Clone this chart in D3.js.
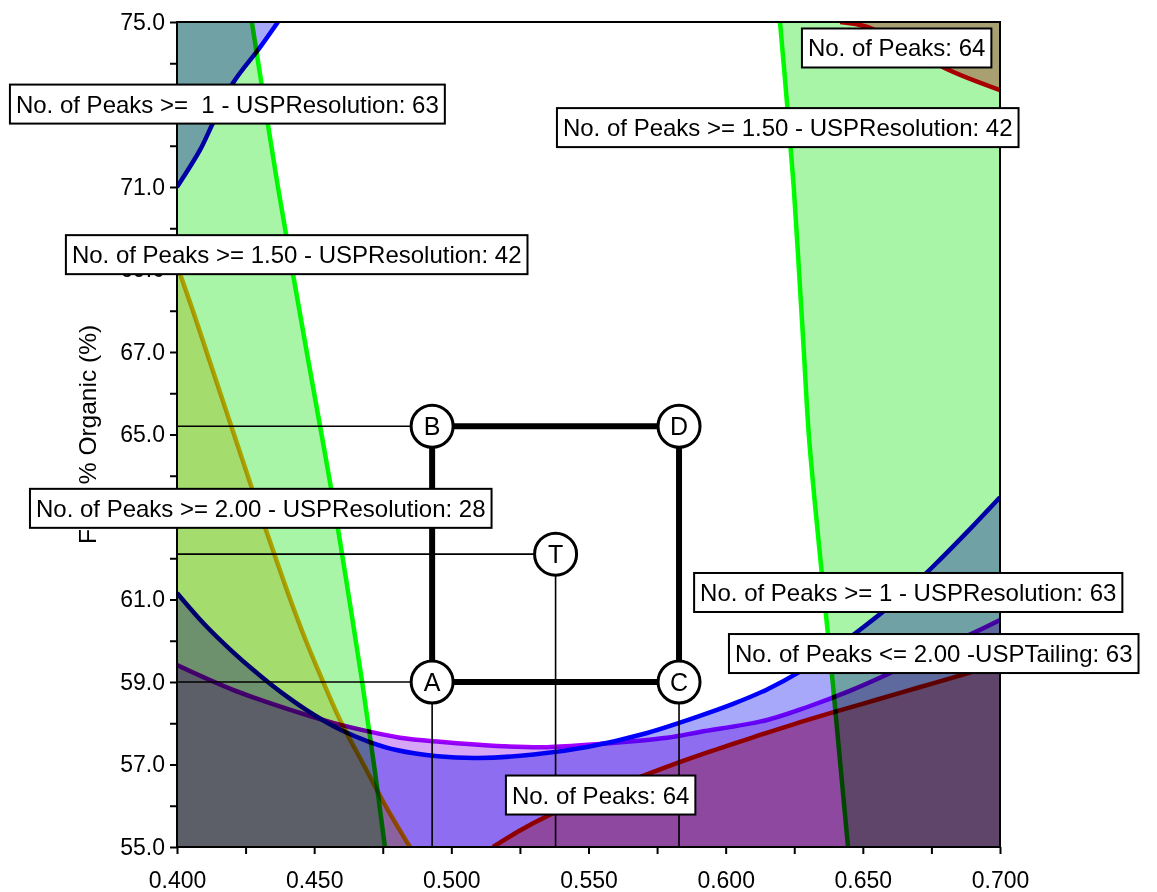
<!DOCTYPE html>
<html><head><meta charset="utf-8">
<script src="https://cdn.jsdelivr.net/npm/d3@7"></script>
<style>
body{margin:0;background:#fff;}
svg text{font-family:"Liberation Sans",Arial,sans-serif;}
</style></head><body>
<svg id="chart" width="1157" height="892"></svg>
<script>
// ---------- data ----------
const xDomain = [0.4, 0.7];
const yDomain = [55, 75];
const xMajorTicks = [0.400, 0.450, 0.500, 0.550, 0.600, 0.650, 0.700];
const xTickLabels = ["0.400", "0.450", "0.500", "0.550", "0.600", "0.650", "0.700"];
const xMinorTicks = [0.425, 0.475, 0.525, 0.575, 0.625, 0.675];
const yMajorTicks = [55, 57, 59, 61, 63, 65, 67, 69, 71, 73, 75];
const yTickLabels = ["55.0", "57.0", "59.0", "61.0", "63.0", "65.0", "67.0", "69.0", "71.0", "73.0", "75.0"];
const yMinorTicks = [56, 58, 60, 62, 64, 66, 68, 70, 72, 74];
const yTitle = "Final % Organic (%)";

// constraint boundaries (x = factor, y = Final % Organic)
const res150LeftEdge = [[0.4273,75],[0.4320,73],[0.4368,71],[0.4420,69],[0.4473,67],[0.4527,65],[0.4580,63],[0.4628,61],[0.4675,59],[0.4718,57],[0.4758,55]];
const res150RightEdge = [[0.6198,75],[0.6224,73],[0.6248,71],[0.6267,69],[0.6285,67],[0.6303,65],[0.6330,63],[0.6360,61],[0.6390,59],[0.6418,57],[0.6446,55]];
const res200Edge = [[0.4000,69.11],[0.4058,68],[0.4108,67],[0.4158,66],[0.4208,65],[0.4258,64],[0.4308,63],[0.4360,62],[0.4413,61],[0.4470,60],[0.4533,59],[0.4600,58],[0.4680,57],[0.4760,56],[0.4849,55]];
const res1TopEdge = [[0.4,71.0],[0.4084,71.90],[0.4131,72.55],[0.4204,73.52],[0.4303,74.39],[0.4368,75.0]];
const res1BottomEdge = [[0.4,61.16],[0.41,60.40],[0.42,59.75],[0.43,59.17],[0.44,58.65],[0.45,58.20],[0.46,57.83],[0.47,57.55],[0.48,57.35],[0.495,57.20],[0.51,57.16],[0.53,57.24],[0.55,57.43],[0.57,57.74],[0.5906,58.18],[0.6027,58.47],[0.6151,58.82],[0.6271,59.25],[0.6391,59.78],[0.6512,60.38],[0.6635,61.05],[0.6756,61.80],[0.6878,62.62],[0.7,63.48]];
const tailingEdge = [[0.4,59.41],[0.4204,58.81],[0.4448,58.25],[0.4569,58.01],[0.4693,57.81],[0.4813,57.65],[0.4959,57.55],[0.5166,57.45],[0.5349,57.42],[0.5542,57.50],[0.5786,57.65],[0.5906,57.79],[0.6151,58.08],[0.63,58.40],[0.645,58.78],[0.66,59.22],[0.675,59.70],[0.69,60.18],[0.7,60.50]];
const peaksBottomEdge = [[0.5152,55.0],[0.525,55.40],[0.535,55.75],[0.55,56.20],[0.565,56.60],[0.58,56.98],[0.595,57.33],[0.61,57.66],[0.625,57.98],[0.64,58.28],[0.655,58.57],[0.67,58.86],[0.685,59.15],[0.7,59.45]];
const peaksTopEdge = [[0.6417,75.0],[0.6516,74.88],[0.6654,74.44],[0.6800,73.88],[0.7,73.35]];

// design points
const pointNames = ["A", "B", "C", "D", "T"];
const pointX = [0.493, 0.493, 0.583, 0.583, 0.538];
const pointY = [59.0, 65.2, 59.0, 65.2, 62.1];
const squareEdges = [["A","B"],["B","D"],["D","C"],["C","A"]];
const horizontalProjections = ["A", "B", "T"];
const verticalProjections = ["A", "T", "C"];

// annotation boxes (left edge x, centre y, in data units)
const annotationTexts = [
  "No. of Peaks >=  1 - USPResolution: 63",
  "No. of Peaks >= 1.50 - USPResolution: 42",
  "No. of Peaks: 64",
  "No. of Peaks >= 1.50 - USPResolution: 42",
  "No. of Peaks >= 2.00 - USPResolution: 28",
  "No. of Peaks >= 1 - USPResolution: 63",
  "No. of Peaks <= 2.00 -USPTailing: 63",
  "No. of Peaks: 64"
];
const annotationX = [0.3391, 0.5385, 0.6278, 0.3595, 0.3464, 0.5885, 0.6012, 0.5199];
const annotationY = [73.01, 72.44, 74.37, 69.36, 63.21, 61.17, 59.69, 56.26];

// ---------- drawing ----------
const svg = d3.select("#chart");
const plotL = 177, plotR = 1000, plotT = 22, plotB = 847;
const x = d3.scaleLinear().domain(xDomain).range([plotL, plotR]);
const y = d3.scaleLinear().domain(yDomain).range([plotB, plotT]);
const X0 = xDomain[0], X1 = xDomain[1], Y0 = yDomain[0], Y1 = yDomain[1];

svg.append("rect").attr("width", 1157).attr("height", 892).attr("fill", "#fff");

svg.append("defs").append("clipPath").attr("id", "plotClip")
  .append("rect").attr("x", plotL).attr("y", plotT).attr("width", plotR - plotL).attr("height", plotB - plotT);

const line = d3.line().x(d => x(d[0])).y(d => y(d[1])).curve(d3.curveCatmullRom.alpha(0.5));
function region(edge, corners) {
  return line(edge) + corners.map(c => "L" + x(c[0]) + "," + y(c[1])).join("") + "Z";
}

const layers = [
  { edge: res1BottomEdge, corners: [[X1, Y0], [X0, Y0]], fill: "#a8a8fa", stroke: "#0000ff" },
  { edge: res1TopEdge, corners: [[X0, Y1]], fill: "#a8a8fa", stroke: "#0000ff" },
  { edge: tailingEdge, corners: [[X1, Y0], [X0, Y0]], fill: "#d7a5f5", stroke: "#a600ff" },
  { edge: peaksBottomEdge, corners: [[X1, Y0]], fill: "#ffa7aa", stroke: "#ff0000" },
  { edge: peaksTopEdge, corners: [[X1, Y1]], fill: "#ffa7aa", stroke: "#ff0000" },
  { edge: res200Edge, corners: [[X0, Y0]], fill: "#fae5a7", stroke: "#ffac00" },
  { edge: res150LeftEdge, corners: [[X0, Y0], [X0, Y1]], fill: "#a8f5a8", stroke: "#00ff00" },
  { edge: res150RightEdge, corners: [[X1, Y0], [X1, Y1]], fill: "#a8f5a8", stroke: "#00ff00" }
];

const gRegions = svg.append("g").attr("clip-path", "url(#plotClip)");
layers.forEach(l => {
  gRegions.append("path").attr("d", region(l.edge, l.corners))
    .attr("fill", l.fill).style("mix-blend-mode", "multiply");
});
layers.forEach(l => {
  gRegions.append("path").attr("d", line(l.edge))
    .attr("fill", "none").attr("stroke", l.stroke).attr("stroke-width", 4.5)
    .attr("stroke-linejoin", "round").style("mix-blend-mode", "multiply");
});

// projection lines
const pts = {};
pointNames.forEach((n, i) => pts[n] = [pointX[i], pointY[i]]);
const gProj = svg.append("g").attr("stroke", "#000").attr("stroke-width", 1.6);
horizontalProjections.forEach(n => {
  gProj.append("line").attr("x1", x(X0)).attr("x2", x(pts[n][0])).attr("y1", y(pts[n][1])).attr("y2", y(pts[n][1]));
});
verticalProjections.forEach(n => {
  gProj.append("line").attr("x1", x(pts[n][0])).attr("x2", x(pts[n][0])).attr("y1", y(pts[n][1])).attr("y2", y(Y0));
});
// square
const gSq = svg.append("g").attr("stroke", "#000").attr("stroke-width", 6);
squareEdges.forEach(e => {
  gSq.append("line").attr("x1", x(pts[e[0]][0])).attr("y1", y(pts[e[0]][1]))
    .attr("x2", x(pts[e[1]][0])).attr("y2", y(pts[e[1]][1]));
});
// point markers
const gPts = svg.append("g");
pointNames.forEach(n => {
  gPts.append("circle").attr("cx", x(pts[n][0])).attr("cy", y(pts[n][1])).attr("r", 21)
    .attr("fill", "#fff").attr("stroke", "#000").attr("stroke-width", 3);
  gPts.append("text").attr("x", x(pts[n][0])).attr("y", y(pts[n][1]) + 9)
    .attr("text-anchor", "middle").attr("font-size", 25).attr("fill", "#000").text(n);
});

// frame
svg.append("rect").attr("x", plotL).attr("y", plotT).attr("width", plotR - plotL).attr("height", plotB - plotT)
  .attr("fill", "none").attr("stroke", "#000").attr("stroke-width", 2);

// axes
const fontSize = 23;
const xAxis = svg.append("g").attr("transform", `translate(0,${plotB})`)
  .call(d3.axisBottom(x).tickValues(xMajorTicks).tickFormat((d, i) => xTickLabels[i]).tickSize(7).tickPadding(18));
const xAxisMinor = svg.append("g").attr("transform", `translate(0,${plotB})`)
  .call(d3.axisBottom(x).tickValues(xMinorTicks).tickFormat("").tickSize(7));
const yAxis = svg.append("g").attr("transform", `translate(${plotL},0)`)
  .call(d3.axisLeft(y).tickValues(yMajorTicks).tickFormat((d, i) => yTickLabels[i]).tickSize(7).tickPadding(5));
const yAxisMinor = svg.append("g").attr("transform", `translate(${plotL},0)`)
  .call(d3.axisLeft(y).tickValues(yMinorTicks).tickFormat("").tickSize(7));
[xAxis, xAxisMinor, yAxis, yAxisMinor].forEach(a => {
  a.select(".domain").remove();
  a.selectAll("line").attr("stroke", "#000").attr("stroke-width", 2);
  a.selectAll("text").attr("font-size", fontSize).attr("fill", "#000")
    .attr("font-family", '"Liberation Sans",Arial,sans-serif');
});

svg.append("text").attr("transform", `translate(96,${(plotT + plotB) / 2}) rotate(-90)`)
  .attr("text-anchor", "middle").attr("font-size", 24.5).attr("fill", "#000").text(yTitle);

// annotation boxes
const pad = 6, boxH = 39;
annotationTexts.forEach((t, i) => {
  const g = svg.append("g");
  const rect = g.append("rect");
  const tx = g.append("text").attr("x", x(annotationX[i]) + pad).attr("y", y(annotationY[i]) + 8.5)
    .attr("font-size", 24).attr("fill", "#000").style("white-space", "pre").text(t);
  const w = tx.node().getComputedTextLength();
  rect.attr("x", x(annotationX[i])).attr("y", y(annotationY[i]) - boxH / 2)
    .attr("width", w + 2 * pad).attr("height", boxH)
    .attr("fill", "#fff").attr("stroke", "#000").attr("stroke-width", 2);
});
</script>
</body></html>
